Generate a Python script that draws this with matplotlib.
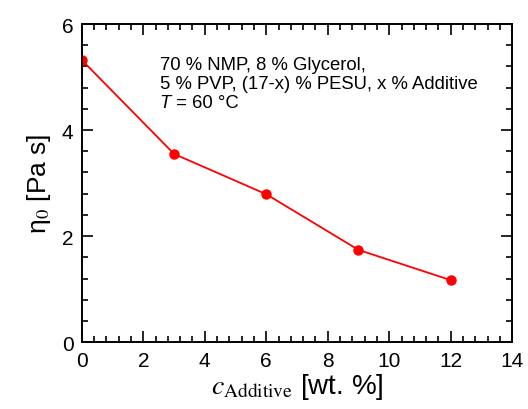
import matplotlib.pyplot as plt
from matplotlib.ticker import MultipleLocator

plt.rcParams['font.family'] = ['Liberation Sans', 'DejaVu Sans']
plt.rcParams['mathtext.fontset'] = 'stix'

# data
c_additive = [0, 3, 6, 9, 12]
eta0 = [5.32, 3.55, 2.79, 1.74, 1.17]

fig = plt.figure(figsize=(5.28, 4.10), dpi=100)
ax = fig.add_axes([0.155, 0.163, 0.815, 0.776])

ax.plot(c_additive, eta0, color='red', lw=1.3, marker='o', ms=6.5)

ax.set_xlim(0, 14)
ax.set_ylim(0, 6)
ax.xaxis.set_major_locator(MultipleLocator(2))
ax.xaxis.set_minor_locator(MultipleLocator(0.4))
ax.yaxis.set_major_locator(MultipleLocator(2))
ax.yaxis.set_minor_locator(MultipleLocator(0.4))
ax.tick_params(which='both', direction='in', top=True, right=True, width=1.2)
ax.tick_params(which='major', length=8, labelsize=15, pad=6)
ax.tick_params(which='minor', length=4)
for s in ax.spines.values():
    s.set_linewidth(1.4)

ax.set_xlabel(r'$c_{\mathrm{Additive}}$ [wt. %]', fontsize=20, labelpad=1)
ax.set_ylabel(r'η$_{0}$ [Pa s]', fontsize=19, labelpad=6)

ax.text(0.181, 0.90,
        '70 % NMP, 8 % Glycerol,\n5 % PVP, (17-x) % PESU, x % Additive',
        transform=ax.transAxes, fontsize=13.3, va='top', ha='left', linespacing=1.15)
t = ax.text(0.181, 0.74, 'T', transform=ax.transAxes, fontsize=13.3,
            style='italic', va='baseline', ha='left')
ax.annotate(' = 60 °C', xy=(1, 0), xycoords=t, fontsize=13.3,
            va='bottom', ha='left')

fig.savefig('out.png', dpi=100)
